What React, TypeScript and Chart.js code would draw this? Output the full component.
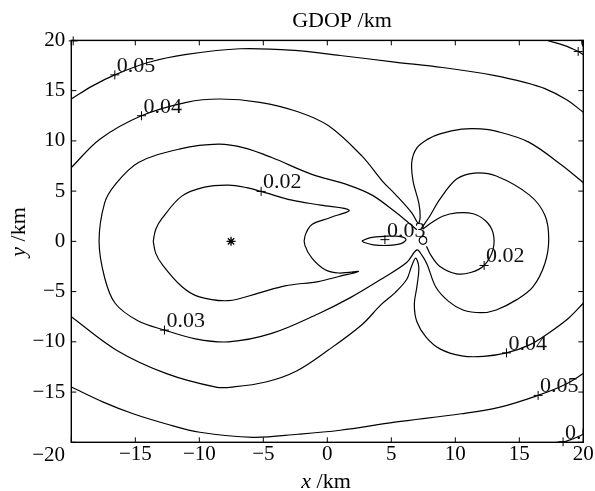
import React, { useEffect, useRef } from "react";
import { Chart, registerables } from "chart.js";
Chart.register(...registerables);

type P = [number, number];

// axis ticks
const xTicks = [-20, -15, -10, -5, 0, 5, 10, 15, 20];
const yTicks = [-20, -15, -10, -5, 0, 5, 10, 15, 20];

// contour lines (x km, y km)
const level002Left: P[] = [
  [-13.6, 0], [-13.4, 1.2], [-12.9, 2.3], [-11.37, 4.5], [-9.6, 5.4], [-7.72, 5.6], [-6.3, 5.35], [-5.17, 4.97],
  [-2.77, 4.1], [-0.5, 3.6], [1.7, 3.1], [0.2, 2.35], [-1.2, 1.67], [-1.75, 0.5], [-1.75, -0.4],
  [-1.2, -1.67], [-0.2, -2.8], [0.9, -3.15], [2.45, -3.0], [0.9, -3.5], [-0.7, -4.0], [-3.3, -4.43],
  [-5.38, -5.16], [-7.72, -5.9], [-10.06, -5.5], [-11.37, -4.5], [-12.9, -2.3], [-13.4, -1.2], [-13.6, 0],
];
const level002Right: P[] = [
  [7.45, 1.2], [8.13, 1.84], [9.0, 2.5], [10.1, 2.84], [11.4, 2.75], [12.4, 2.0], [12.95, 0.84],
  [12.95, -0.8], [12.25, -2.4], [11.2, -3.1], [10.1, -3.23], [8.8, -2.5], [8.1, -1.4], [7.75, -0.5],
];
const level003Main: P[] = [
  [7.0, 1.15], [6.3, 1.9], [5.4, 2.84], [3.5, 4.6], [1.65, 5.6], [-1.2, 6.67], [-4.34, 8.34],
  [-6.5, 9.3], [-8.5, 9.67], [-11.5, 9.2], [-14.75, 7.84], [-16.6, 5.6], [-17.4, 3.8], [-17.83, 0],
  [-17.4, -3.6], [-16.58, -6.16], [-14.8, -7.9], [-12.72, -8.83], [-10.3, -9.7], [-7.72, -10],
  [-4.34, -9.16], [-0.69, -7.2], [1.8, -5.6], [4.1, -3.85], [6.2, -2.1], [7.0, -0.85], [7.4, -1.4],
  [7.8, -2.3], [8.5, -4.6], [9.5, -6.0], [10.6, -6.83], [12.0, -7.1], [13.2, -6.83], [14.8, -5.8],
  [16.08, -4.5], [17.0, -2.2], [17.3, 0.2], [17.0, 2.6], [15.8, 4.6], [13.2, 6.5], [11.5, 6.8],
  [10.1, 6.2], [8.8, 4.2], [8.0, 2.5], [7.3, 1.2],
];
const level003Island: P[] = [
  [2.7, 0.05], [3.3, 0.35], [4.5, 0.5], [5.6, 0.5], [6.15, 0.2], [5.8, -0.2], [4.8, -0.4],
  [3.6, -0.35], [2.9, -0.12], [2.7, 0.05],
];
const level004Upper: P[] = [
  [-20, 7.34], [-17.77, 10.17], [-14.52, 12.5], [-11, 13.84], [-8.4, 14.17], [-5.27, 13.84],
  [-2.3, 12.9], [0.1, 11.5], [2.7, 8.5], [4.3, 6.0], [5.3, 4.7], [6.6, 2.84], [7.1, 1.8],
  [7.25, 2.4], [7.15, 3.8], [6.7, 6.0], [6.6, 7.9], [7.0, 9.3], [7.9, 10.2], [8.8, 10.7],
  [10.5, 11.17], [12.0, 11.2], [13.1, 11.0], [15.7, 9.9], [18.3, 7.6], [20, 5.84],
];
const level004Lower: P[] = [
  [20, -6.16], [18.8, -7.7], [17.25, -9.16], [15.8, -10.3], [14.0, -11.1], [12.2, -11.45],
  [10.5, -11.4], [8.8, -10.7], [7.7, -9.5], [7.0, -8.0], [6.8, -6.3], [7.0, -4.5], [7.15, -2.6],
  [6.9, -1.66], [6.55, -2.6], [6.2, -3.8], [5.3, -5.1], [4.2, -6.3], [2.7, -8.3], [0.1, -10.8],
  [-2.4, -12.9], [-4.8, -14.0], [-7.4, -14.5], [-8.7, -14.5], [-12.56, -13.16], [-16.47, -10.83],
  [-20, -7.5],
];
const level005Upper: P[] = [
  [-20, 14.17], [-18.3, 15.5], [-16.6, 16.57], [-14, 17.8], [-11, 18.6], [-6.84, 19.17],
  [-2.54, 19.0], [1, 18.5], [5.27, 17.84], [9, 17.3], [13.1, 16.5], [15.5, 15.8], [17, 15.2],
  [18.7, 14.1], [20, 12.84],
];
const level005Lower: P[] = [
  [-20, -14.5], [-17.5, -16], [-15.17, -17.16], [-12.5, -18.2], [-9.96, -19], [-5.8, -19.5],
  [-2.3, -19.2], [1, -18.8], [5.27, -18.0], [10.48, -17.16], [13.5, -16.5], [16.47, -15.33],
  [18.5, -14.3], [20, -13.16],
];
const level006Top: P[] = [[17.2, 20.0], [18.5, 19.5], [19.6, 18.9], [20, 18.6]];
const level006Bottom: P[] = [[17.0, -20.1], [18.4, -19.95], [19.3, -19.6], [20, -19.2]];
const stationRing: P[] = [
  [7.78, 0.1], [7.69, 0.38], [7.48, 0.5], [7.27, 0.38], [7.18, 0.1], [7.27, -0.18],
  [7.48, -0.3], [7.69, -0.18], [7.78, 0.1],
];

// contour labels
const labelX = [-16.6, -14.52, -5.17, -12.72, 4.5, 12.25, 14.0, 16.47, 18.42, 19.6, -19.85];
const labelY = [16.57, 12.5, 4.97, -8.83, 0.17, -2.4, -11.1, -15.33, -19.95, 18.9, 19.95];
const labelText = ["0.05", "0.04", "0.02", "0.03", "0.03", "0.02", "0.04", "0.05", "0.06", "0.06", "0.06"];

// master station
const stationX = [-7.52];
const stationY = [0];

const SERIF = '"Liberation Serif", "Times New Roman", serif';
const fmt = (v: number) => (v < 0 ? "\u2212" + Math.abs(v) : String(v));
const toXY = (pts: P[]) => pts.map(([x, y]) => ({ x, y }));

const contourPieces = [
  level002Left, level002Right, level003Main, level003Island, level004Upper, level004Lower,
  level005Upper, level005Lower, level006Top, level006Bottom, stationRing,
];

export default function App() {
  const ref = useRef<HTMLCanvasElement | null>(null);
  useEffect(() => {
    if (!ref.current) return;
    const decor = {
      id: "decor",
      afterDatasetsDraw(chart: any) {
        const { ctx, chartArea: a } = chart;
        const xs = chart.scales.x;
        const ys = chart.scales.y;
        ctx.save();
        ctx.beginPath();
        ctx.rect(a.left, a.top, a.right - a.left, a.bottom - a.top);
        ctx.clip();
        ctx.font = `22px ${SERIF}`;
        ctx.fillStyle = "#111";
        ctx.textAlign = "left";
        ctx.textBaseline = "alphabetic";
        labelX.forEach((lx, i) => {
          ctx.fillText(labelText[i], xs.getPixelForValue(lx) + 2, ys.getPixelForValue(labelY[i]) - 3);
        });
        ctx.restore();

        ctx.save();
        ctx.strokeStyle = "#000";
        ctx.lineWidth = 1.4;
        ctx.strokeRect(a.left, a.top, a.right - a.left, a.bottom - a.top);
        ctx.lineWidth = 1;
        const seg = (x1: number, y1: number, x2: number, y2: number) => {
          ctx.beginPath();
          ctx.moveTo(x1, y1);
          ctx.lineTo(x2, y2);
          ctx.stroke();
        };
        xTicks.forEach((v) => {
          const p = xs.getPixelForValue(v);
          seg(p, a.bottom, p, a.bottom - 5);
          seg(p, a.top, p, a.top + 5);
        });
        yTicks.forEach((v) => {
          const p = ys.getPixelForValue(v);
          seg(a.left, p, a.left + 5, p);
          seg(a.right, p, a.right - 5, p);
        });
        ctx.restore();
      },
      afterDraw(chart: any) {
        const { ctx } = chart;
        ctx.save();
        ctx.fillStyle = "#000";
        ctx.font = `22px ${SERIF}`;
        ctx.textAlign = "center";
        ctx.textBaseline = "alphabetic";
        ctx.fillText("GDOP /km", 342, 27);
        ctx.font = `21px ${SERIF}`;
        ctx.textAlign = "right";
        ctx.textBaseline = "middle";
        ctx.fillText(fmt(-20), 65, 455);
        const drawMixed = (it: string, rest: string, cx: number, cy: number) => {
          ctx.textBaseline = "alphabetic";
          ctx.textAlign = "left";
          ctx.font = `italic 22px ${SERIF}`;
          const w1 = ctx.measureText(it).width;
          ctx.font = `22px ${SERIF}`;
          const w2 = ctx.measureText(rest).width;
          const start = cx - (w1 + w2) / 2;
          ctx.font = `italic 22px ${SERIF}`;
          ctx.fillText(it, start, cy);
          ctx.font = `22px ${SERIF}`;
          ctx.fillText(rest, start + w1, cy);
        };
        drawMixed("x", " /km", 326, 488);
        ctx.save();
        ctx.translate(25, 232);
        ctx.rotate(-Math.PI / 2);
        drawMixed("y", " /km", 0, 0);
        ctx.restore();
        ctx.restore();
      },
    };

    const lineSets = contourPieces.map((pts) => ({
      type: "scatter" as const,
      data: toXY(pts),
      showLine: true,
      borderColor: "#000",
      borderWidth: 1.2,
      pointRadius: 0,
      tension: 0.35,
      fill: false,
    }));

    const chart = new Chart(ref.current, {
      type: "scatter",
      data: {
        datasets: [
          ...lineSets,
          {
            type: "scatter",
            data: labelX.map((x, i) => ({ x, y: labelY[i] })),
            pointStyle: "cross",
            pointRadius: 4.5,
            borderColor: "#000",
            borderWidth: 1,
            showLine: false,
            clip: false,
          } as any,
          {
            type: "scatter",
            data: stationX.map((x, i) => ({ x, y: stationY[i] })),
            pointStyle: "star",
            pointRadius: 4.5,
            borderColor: "#000",
            borderWidth: 1.3,
            showLine: false,
          } as any,
        ],
      },
      options: {
        animation: false,
        responsive: false,
        maintainAspectRatio: false,
        events: [],
        layout: { padding: { top: 40.4, right: 11.7, left: 0, bottom: 0 } },
        plugins: { legend: { display: false }, tooltip: { enabled: false }, title: { display: false } },
        scales: {
          x: {
            type: "linear",
            min: -20,
            max: 20,
            afterBuildTicks: (s: any) => {
              s.ticks = xTicks.map((v) => ({ value: v }));
            },
            afterFit: (s: any) => {
              s.height = 48.7;
            },
            grid: { display: false, drawTicks: false },
            border: { display: false },
            ticks: {
              color: "#000",
              font: { family: SERIF, size: 21 },
              padding: 0,
              maxRotation: 0,
              autoSkip: false,
              callback: (v: any) => (Number(v) === -20 ? "" : fmt(Number(v))),
            },
          },
          y: {
            type: "linear",
            min: -20,
            max: 20,
            afterBuildTicks: (s: any) => {
              s.ticks = yTicks.map((v) => ({ value: v }));
            },
            afterFit: (s: any) => {
              s.width = 71.3;
            },
            grid: { display: false, drawTicks: false },
            border: { display: false },
            ticks: {
              color: "#000",
              font: { family: SERIF, size: 21 },
              padding: 6,
              autoSkip: false,
              callback: (v: any) => (Number(v) === -20 ? "" : fmt(Number(v))),
            },
          },
        },
      },
      plugins: [decor],
    } as any);
    return () => chart.destroy();
  }, []);

  return (
    <div style={{ position: "fixed", left: 0, top: 0, width: 595, height: 491, background: "#fff" }}>
      <canvas ref={ref} width={595} height={491} style={{ display: "block", width: 595, height: 491 }} />
    </div>
  );
}
